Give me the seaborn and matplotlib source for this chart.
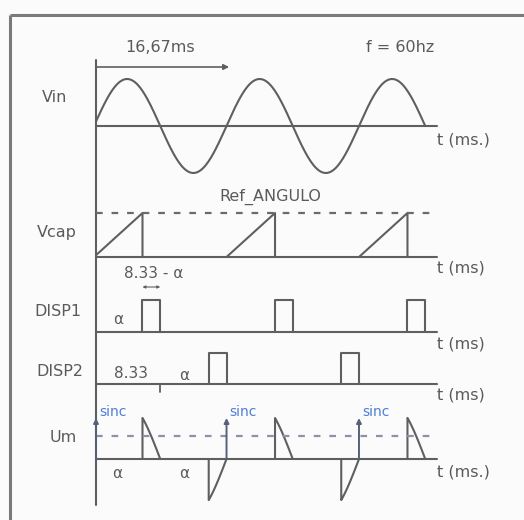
import numpy as np
import pandas as pd
import matplotlib
matplotlib.use("Agg")
import matplotlib.pyplot as plt
import seaborn as sns

# ============ Timing data (ms) ============
FREQ_HZ = 60
HALF_MS = 8.33
ALPHA_MS = 6.1
T_AXIS = 0.25
T_SINE_END = 41.67
T_BASE_END = 43.1

zero_cross_up = [0.0, 16.67, 33.33]       # ramp starts / sinc pulses
ramp_ends = [6.1, 22.77, 39.43]
disp1_on = [6.1, 22.77, 39.43]
disp1_off = [8.33, 25.0, 41.67]
disp2_on = [14.43, 31.10]
disp2_off = [16.67, 33.33]
um_pos = [(6.1, 8.33), (22.77, 25.0), (39.43, 41.67)]
um_neg = [(14.43, 16.67), (31.10, 33.33)]
sinc_times = [0.25, 16.67, 33.33]
um_ref_level = 0.42

trace_names = ["Vin", "Vcap", "DISP1", "DISP2", "Um"]

# ============ Layout (pixel based) ============
X0_PX, PX_PER_MS = 94, 7.95
ROWS = {"Vin": (126, 47), "Vcap": (257, 44), "DISP1": (332, 32),
        "DISP2": (384, 31), "Um": (459, 55)}
LINE = "#5f5f5f"
TXT = "#5a5a5a"
BLUE = "#4f7fd6"


def tx(px):
    return (px - X0_PX) / PX_PER_MS


def vin(t):
    return np.sin(2 * np.pi * FREQ_HZ * np.asarray(t) / 1000.0)


# ============ Build long-form segments ============
parts = []
seg_id = [0]


def add(row, t, v):
    base, amp = ROWS[row]
    t = np.asarray(t, dtype=float)
    v = np.asarray(v, dtype=float)
    parts.append(pd.DataFrame({"t": t, "y": base - amp * v, "seg": seg_id[0]}))
    seg_id[0] += 1


# baselines
for name in trace_names:
    add(name, [T_AXIS, T_BASE_END], [0, 0])

# Vin sine
tt = np.linspace(T_AXIS, T_SINE_END, 400)
add("Vin", tt, vin(tt))

# Vcap ramps
for z, e in zip(zero_cross_up, ramp_ends):
    s = max(z, T_AXIS)
    add("Vcap", [s, e, e], [(s - z) / ALPHA_MS, 1, 0])

# gate pulses
for a, b in zip(disp1_on, disp1_off):
    add("DISP1", [a, a, b, b], [0, 1, 1, 0])
for a, b in zip(disp2_on, disp2_off):
    add("DISP2", [a, a, b, b], [0, 1, 1, 0])

# load voltage pieces
for a, b in um_pos + um_neg:
    ts = np.linspace(a, b, 60)
    add("Um", np.r_[a, ts], np.r_[0, vin(ts)])

df = pd.concat(parts, ignore_index=True)

# ============ Plot ============
sns.set_theme(style="white")
plt.rcParams["font.family"] = ["DejaVu Sans"]

fig = plt.figure(figsize=(5.24, 5.20), dpi=100, facecolor="#fbfbfb")
ax = fig.add_axes([0, 0, 1, 1])
ax.set_facecolor("#fbfbfb")

sns.lineplot(data=df, x="t", y="y", units="seg", estimator=None, sort=False,
             color=LINE, lw=1.5, ax=ax, legend=False)

# vertical time axis
axis_df = pd.DataFrame({"t": [T_AXIS, T_AXIS], "y": [60, 505]})
sns.lineplot(data=axis_df, x="t", y="y", estimator=None, sort=False,
             color=LINE, lw=1.5, ax=ax)

# dashed reference levels
for row, lvl, col in [("Vcap", 1.0, "#6a6a6a"), ("Um", um_ref_level, "#8d93a6")]:
    base, amp = ROWS[row]
    ref = pd.DataFrame({"t": [T_AXIS, T_BASE_END], "y": [base - amp * lvl] * 2})
    sns.lineplot(data=ref, x="t", y="y", estimator=None, color=col, lw=1.6,
                 linestyle=(0, (3, 4)), ax=ax)

# period arrow
ax.annotate("", xy=(17.35, 67), xytext=(tx(93), 67),
            arrowprops=dict(arrowstyle="-|>", color=LINE, lw=1.2, mutation_scale=8))

# sinc arrows
base, amp = ROWS["Um"]
for ts in sinc_times:
    ax.annotate("", xy=(ts, 418), xytext=(ts, base),
                arrowprops=dict(arrowstyle="-|>", color="#56607a", lw=1.4,
                                mutation_scale=7, shrinkA=0, shrinkB=0))
    ax.text(ts + 0.4, 412, "sinc", color=BLUE, fontsize=10, ha="left", va="center")

# small 8.33 - alpha span arrow
ax.annotate("", xy=(HALF_MS, 287), xytext=(ALPHA_MS, 287),
            arrowprops=dict(arrowstyle="<|-|>", color=LINE, lw=0.8,
                            mutation_scale=4, shrinkA=0, shrinkB=0))

# tick at 8.33 on DISP2
tick = pd.DataFrame({"t": [HALF_MS, HALF_MS], "y": [384, 392]})
sns.lineplot(data=tick, x="t", y="y", estimator=None, sort=False,
             color=LINE, lw=1.3, ax=ax)

# frame (only top and left edges visible in the scan)
ax.plot([tx(10), tx(524)], [15, 15], color="#7a7a7a", lw=2.2, solid_capstyle="butt")
ax.plot([tx(10), tx(10)], [15, 520], color="#7a7a7a", lw=2.2, solid_capstyle="butt")

# text
fs = 11.5
labels = [("16,67ms", 160, 48, "center"), ("f = 60hz", 400, 47, "center"),
          ("Vin", 55, 97, "center"), ("Vcap", 57, 232, "center"),
          ("DISP1", 58, 311, "center"), ("DISP2", 60, 371, "center"),
          ("Um", 63, 438, "center"), ("Ref_ANGULO", 270, 197, "center")]
for s, x, y, ha in labels:
    ax.text(tx(x), y, s, fontsize=fs, color=TXT, ha=ha, va="center")

for y in [140, 268, 344, 395, 472]:
    lab = "t (ms.)" if y in (140, 472) else "t (ms)"
    ax.text(tx(437), y, lab, fontsize=fs, color=TXT, ha="left", va="center")

small = [("8.33 - α", 154, 274), ("α", 118, 319), ("8.33", 131, 373),
         ("α", 184, 375), ("α", 117, 473), ("α", 184, 473)]
for s, x, y in small:
    ax.text(tx(x), y, s, fontsize=11, color=TXT, ha="center", va="center")

ax.set_xlim(tx(0), tx(524))
ax.set_ylim(520, 0)
ax.axis("off")

fig.savefig("out.png", dpi=100, facecolor=fig.get_facecolor())
